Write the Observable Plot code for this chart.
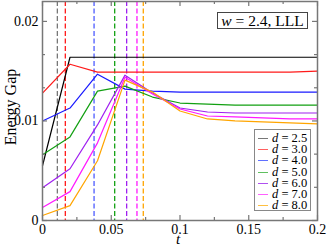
<!DOCTYPE html>
<html><head><meta charset="utf-8">
<script src="https://cdn.jsdelivr.net/npm/d3@7"></script>
<script src="https://cdn.jsdelivr.net/npm/@observablehq/plot@0.6"></script>
<style>
body{margin:0;background:#fff;}
#wrap{position:relative;width:327px;height:245px;font-family:"Liberation Serif",serif;color:#000;}
#wrap svg{display:block;}
.ov{position:absolute;white-space:nowrap;line-height:1;}
#ylab{left:11px;top:107px;font-size:16px;transform:translate(-50%,-50%) rotate(-90deg);}
#xlab{left:176px;top:233.5px;font-size:15px;line-height:10px;height:10px;font-style:italic;}
#note{left:217px;top:12px;width:89px;height:15px;border:1px solid #444;background:#fff;font-size:15.5px;display:flex;align-items:center;justify-content:center;}
#legend{left:254px;top:129px;width:55px;height:80px;border:1px solid #888;background:#fff;}
.row{position:absolute;left:0;height:11px;line-height:11px;font-size:12.5px;}
.sw{position:absolute;left:3px;top:5px;width:10px;height:0;border-top:1.5px solid;}
.tx{position:absolute;left:17px;top:0;line-height:11px;}
</style></head><body><div id="wrap"></div>
<script>
// time grid
const tValues = [0, 0.02, 0.04, 0.06, 0.08, 0.1, 0.12, 0.14, 0.16, 0.18, 0.2];
const dLabels = ["2.5", "3.0", "4.0", "5.0", "6.0", "7.0", "8.0"];
// energy gap series, one per d
const gapD25 = [0.0055, 0.0164, 0.0164, 0.0164, 0.0164, 0.0164, 0.0164, 0.0164, 0.0164, 0.0164, 0.0164];
const gapD30 = [0.0128, 0.0157, 0.0149, 0.0149, 0.0149, 0.0149, 0.0149, 0.0149, 0.0149, 0.0149, 0.0150];
const gapD40 = [0.0100, 0.0113, 0.0147, 0.0132, 0.0130, 0.0129, 0.0129, 0.0129, 0.0129, 0.0129, 0.0129];
const gapD50 = [0.0066, 0.0084, 0.0130, 0.0135, 0.0124, 0.0118, 0.0117, 0.0116, 0.0116, 0.0116, 0.0116];
const gapD60 = [0.0033, 0.0052, 0.0096, 0.0146, 0.0128, 0.0113, 0.0109, 0.0108, 0.0108, 0.0108, 0.0108];
const gapD70 = [0.0013, 0.0029, 0.0078, 0.0144, 0.0127, 0.0112, 0.0105, 0.0104, 0.0103, 0.0102, 0.0102];
const gapD80 = [0.0005, 0.0015, 0.0060, 0.0141, 0.0129, 0.0110, 0.0102, 0.0100, 0.0099, 0.0098, 0.0097];
const gapSeries = [gapD25, gapD30, gapD40, gapD50, gapD60, gapD70, gapD80];
// crossing times (dashed verticals)
const crossT = [0.0108, 0.0166, 0.0375, 0.0525, 0.0612, 0.0687, 0.0733];
// colours
const lineColors = ["#000000", "#ff1a1a", "#1a1aff", "#12a012", "#a020f0", "#ff1aff", "#ffa500"];
const dashColors = ["#777777", "#ff1a1a", "#4d5cff", "#12a012", "#a020f0", "#ff1aff", "#ffa500"];
const legendColors = ["#777777", "#ff6060", "#6070ff", "#60c060", "#b050f0", "#ff60ff", "#ffc040"];
// ticks
const xMajor = [0, 0.05, 0.1, 0.15, 0.2];
const xMinor = [0.025, 0.075, 0.125, 0.175];
const xTickLabels = ["0", "0.05", "0.1", "0.15", "0.2"];
const yMajor = [0, 0.01, 0.02];
const yMinor = [0.01/3, 0.02/3, 0.04/3, 0.05/3];
const yTickLabels = ["0", "0.01", "0.02"];

const rows = [];
gapSeries.forEach((s, i) => s.forEach((v, j) => rows.push({t: tValues[j], v, d: dLabels[i], c: lineColors[i]})));
const cross = crossT.map((t, i) => ({t, c: dashColors[i]}));

const W = 327, H = 245, ML = 42, MR = 10, MT = 1, MB = 25;
const PW = W - ML - MR, PH = H - MT - MB;
const tc = "#777";
const id = (d) => d;
const plot = Plot.plot({
  width: W, height: H,
  marginLeft: ML, marginRight: MR, marginTop: MT, marginBottom: MB,
  style: {fontFamily: "Liberation Serif", fontSize: "14px", background: "white", color: "black"},
  x: {domain: [0, 0.2], label: null},
  y: {domain: [0, 0.022], label: null},
  color: {type: "identity"},
  marks: [
    Plot.ruleX(cross, {x: "t", stroke: "c", strokeDasharray: "5,2.5", strokeWidth: 1.3}),
    Plot.line(rows, {x: "t", y: "v", z: "d", stroke: "c", strokeWidth: 1.2}),
    // inward ticks on all four sides
    Plot.tickX(xMajor, {x: id, insetTop: PH - 5, stroke: tc, strokeWidth: 1.2}),
    Plot.tickX(xMinor, {x: id, insetTop: PH - 3, stroke: tc, strokeWidth: 1.2}),
    Plot.tickX(xMajor, {x: id, insetBottom: PH - 5, stroke: tc, strokeWidth: 1.2}),
    Plot.tickX(xMinor, {x: id, insetBottom: PH - 3, stroke: tc, strokeWidth: 1.2}),
    Plot.tickY(yMajor, {y: id, insetRight: PW - 5, stroke: tc, strokeWidth: 1.2}),
    Plot.tickY(yMinor, {y: id, insetRight: PW - 3, stroke: tc, strokeWidth: 1.2}),
    Plot.tickY(yMajor, {y: id, insetLeft: PW - 5, stroke: tc, strokeWidth: 1.2}),
    Plot.tickY(yMinor, {y: id, insetLeft: PW - 3, stroke: tc, strokeWidth: 1.2}),
    Plot.frame({stroke: tc, strokeWidth: 1.5}),
    Plot.axisX(xMajor, {anchor: "bottom", tickSize: 0, tickPadding: 4, fontSize: 14, fill: "black",
      tickFormat: (d) => xTickLabels[xMajor.indexOf(d)], label: null}),
    Plot.axisY(yMajor, {anchor: "left", tickSize: 0, tickPadding: 4, fontSize: 14, fill: "black",
      tickFormat: (d) => yTickLabels[yMajor.indexOf(d)], label: null})
  ]
});
const wrap = document.getElementById("wrap");
wrap.appendChild(plot);

function addDiv(idName, html) {
  const el = document.createElement("div");
  el.className = "ov"; el.id = idName; el.innerHTML = html;
  wrap.appendChild(el); return el;
}
addDiv("ylab", "Energy Gap");
addDiv("xlab", "t");
addDiv("note", "<i>w</i>&nbsp;= 2.4, LLL");
const leg = addDiv("legend", "");
dLabels.forEach((d, i) => {
  const r = document.createElement("div");
  r.className = "row";
  r.style.top = (3 + i * 11.2) + "px";
  r.style.width = "55px";
  r.innerHTML = `<span class="sw" style="border-color:${legendColors[i]}"></span><span class="tx"><i>d</i> = ${d}</span>`;
  leg.appendChild(r);
});
</script>
</body></html>
